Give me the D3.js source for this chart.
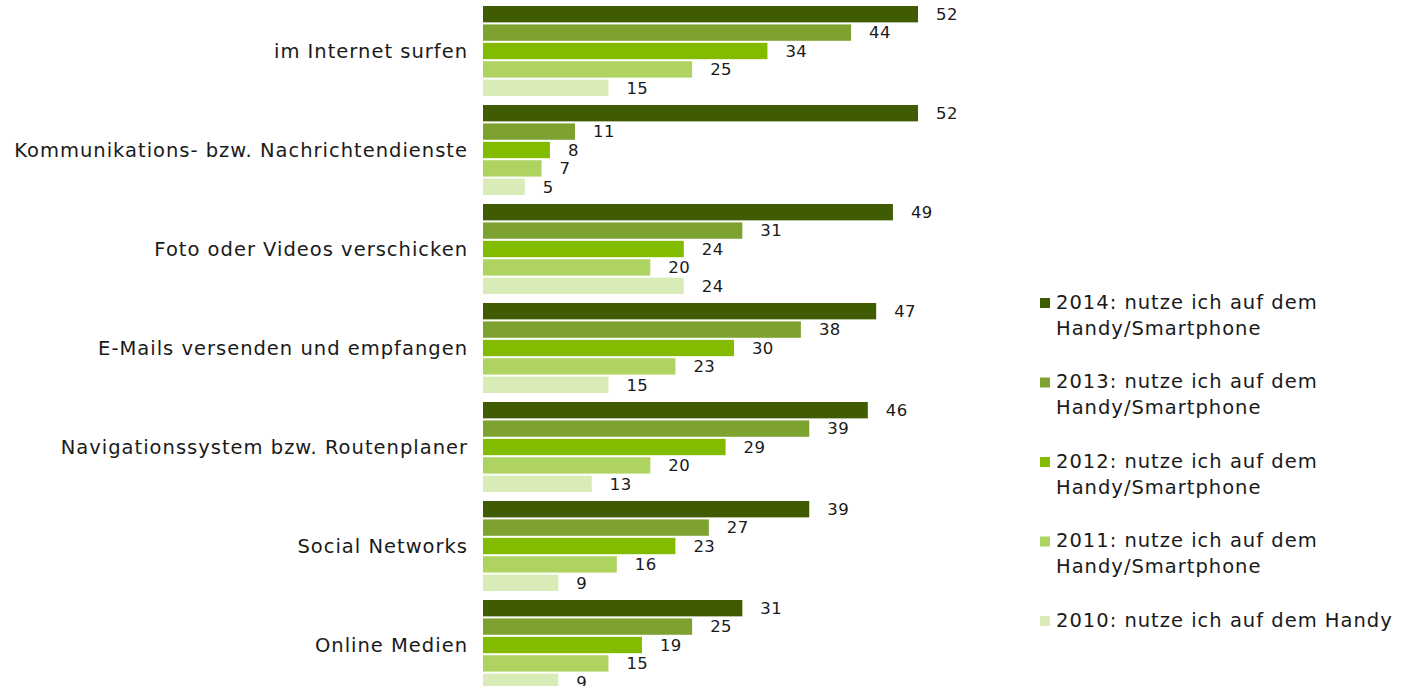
<html>
<head>
<meta charset="utf-8">
<style>
  body { margin: 0; background: #fff; }
  text { font-family: "DejaVu Sans", Verdana, sans-serif; fill: #1a1a1a; }
</style>
<script src="https://cdn.jsdelivr.net/npm/d3@7"></script>
</head>
<body>
<svg id="chart" width="1403" height="686"></svg>
<script>
// Kategorien (von oben nach unten)
const categories = [
  "im Internet surfen",
  "Kommunikations- bzw. Nachrichtendienste",
  "Foto oder Videos verschicken",
  "E-Mails versenden und empfangen",
  "Navigationssystem bzw. Routenplaner",
  "Social Networks",
  "Online Medien"
]
const seriesKeys = ["2014", "2013", "2012", "2011", "2010"]
const seriesLabels = [
  ["2014: nutze ich auf dem", "Handy/Smartphone"],
  ["2013: nutze ich auf dem", "Handy/Smartphone"],
  ["2012: nutze ich auf dem", "Handy/Smartphone"],
  ["2011: nutze ich auf dem", "Handy/Smartphone"],
  ["2010: nutze ich auf dem Handy"]
]
const v2014 = [52, 52, 49, 47, 46, 39, 31]
const v2013 = [44, 11, 31, 38, 39, 27, 25]
const v2012 = [34, 8, 24, 30, 29, 23, 19]
const v2011 = [25, 7, 20, 23, 20, 16, 15]
const v2010 = [15, 5, 24, 15, 13, 9, 9]
const colors = ["#405c02", "#7da22f", "#82bb00", "#aed361", "#d9ebb6"]

const seriesValues = [v2014, v2013, v2012, v2011, v2010]

let svg = d3.select("#chart")

let x = d3.scaleLinear().domain([0, 52]).range([483, 918])
let y = d3.scaleBand().domain(categories).range([1.5, 694.5])
let ySub = d3.scaleBand().domain(seriesKeys).range([4.5, 94.5]).paddingInner(2 / 18)

let groups = svg.selectAll(".group")
  .data(categories)
  .enter()
  .append("g")
  .attr("transform", d => "translate(0," + y(d) + ")")

groups.append("text")
  .attr("x", 468)
  .attr("y", y.bandwidth() / 2)
  .attr("dy", "0.35em")
  .attr("text-anchor", "end")
  .style("font-size", "19.5px")
  .style("letter-spacing", "1px")
  .text(d => d)

groups.each(function (cat, ci) {
  let g = d3.select(this)
  seriesKeys.forEach((k, si) => {
    let val = seriesValues[si][ci]
    g.append("rect")
      .attr("x", x(0))
      .attr("y", ySub(k))
      .attr("width", x(val) - x(0))
      .attr("height", ySub.bandwidth())
      .attr("fill", colors[si])
    g.append("text")
      .attr("x", x(val) + 18)
      .attr("y", ySub(k) + ySub.bandwidth() / 2)
      .attr("dy", "0.35em")
      .style("font-size", "16.5px")
      .style("letter-spacing", "0.4px")
      .text(val)
  })
})

// Legende
let legend = svg.append("g").attr("transform", "translate(1040,0)")
seriesKeys.forEach((k, i) => {
  let top = 302 + i * 79.5
  legend.append("rect")
    .attr("x", 0)
    .attr("y", top - 4)
    .attr("width", 10)
    .attr("height", 10)
    .attr("fill", colors[i])
  let t = legend.append("text")
    .attr("x", 16)
    .attr("y", top)
    .style("font-size", "19.5px")
    .style("letter-spacing", "1px")
  seriesLabels[i].forEach((line, li) => {
    t.append("tspan").attr("x", 16).attr("dy", li == 0 ? "0.35em" : "26px").text(line)
  })
})
</script>
</body>
</html>
